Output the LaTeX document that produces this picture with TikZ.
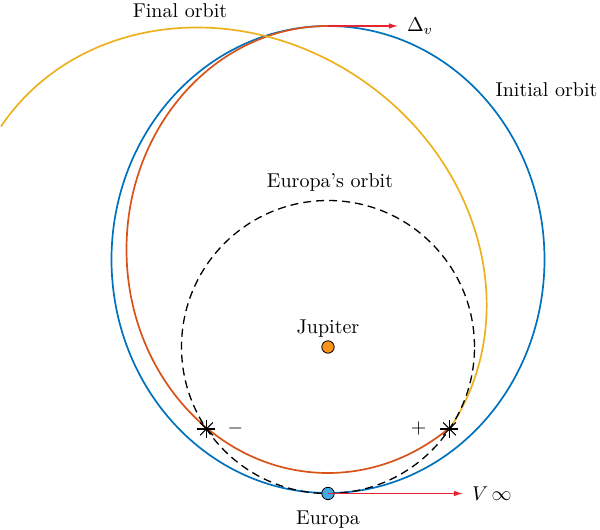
\documentclass[tikz,border=0pt]{standalone}
\usepackage{amsmath,amssymb}
\usepackage{tikz}
\usetikzlibrary{arrows.meta,positioning}
\definecolor{orbblue}{RGB}{0,114,189}
\definecolor{orbred}{RGB}{217,83,25}
\definecolor{orbyellow}{RGB}{237,177,32}
\definecolor{vecred}{RGB}{232,36,52}
\definecolor{jupfill}{RGB}{247,148,29}
\definecolor{eurfill}{RGB}{64,170,228}

\begin{document}
\begin{tikzpicture}[x=0.5pt, y=0.5pt, line/.style={-{Latex[length=4.5pt,width=2.8pt]},draw=vecred,line width=0.6pt}, orbit/.style={line width=0.85pt}, body/.style={circle,draw,line width=0.4pt,minimum size=6.2pt,inner sep=0pt}, tag/.style={inner sep=1pt}, flyby/.style={line width=0.6pt}]
\useasboundingbox (-328,-183) rectangle (272,347);
% flyby points
\coordinate (lstar) at (-121.5,-81.9);
\coordinate (rstar) at (121.5,-81.9);
% orbits
\draw[orbit,draw=orbblue] (0,87.5) ellipse [x radius=216.5, y radius=233.5];
\draw[orbit,draw=orbred] (0,321) arc[start angle=90, end angle=306.6, x radius=201.5, y radius=223.5] -- (rstar);
\begin{scope}[shift={(-102.8,69.3)}, rotate=-34]
\draw[orbit,draw=orbyellow] (270.45,0) arc[start angle=0, end angle=180, x radius=270.45, y radius=240.4];
\end{scope}
\draw[dash pattern=on 4pt off 2.5pt, line width=0.65pt] (0,0) circle[radius=146.5];
\foreach \s in {lstar,rstar}
  \foreach \a in {0,45,90,135}
    \draw[flyby] (\s) ++(\a:4.5pt) -- ++(\a+180:9pt);
\node[right=7pt of lstar] (minus) {$-$};
\node[left=8pt of rstar] (plus) {$+$};
% bodies
\node[body,fill=jupfill] (jupiter) at (0,0) {};
\node[tag,above=0.5pt of jupiter] (juplabel) {Jupiter};
\coordinate (vtip) at (135,-146.5);
\node[body,fill=eurfill] (europa) at (0,-146.5) {};
\draw[line] (europa.center) -- (vtip);
\node[tag,below=4pt of europa] (eurlabel) {Europa};
\node[right=1pt of vtip] (vlabel) {$V\,\infty$};
% impulse
\coordinate (dvbase) at (0,321);
\coordinate (dvtip) at (70,321);
\draw[line] (dvbase) -- (dvtip);
\node[right=1pt of dvtip] (dvlabel) {$\Delta_v$};
% orbit labels
\node (finallabel) at (-148,336) {Final orbit};
\node (initlabel) at (218.5,257) {Initial orbit};
\node (eorblabel) at (2,164) {Europa's orbit};
\end{tikzpicture}
\end{document}
